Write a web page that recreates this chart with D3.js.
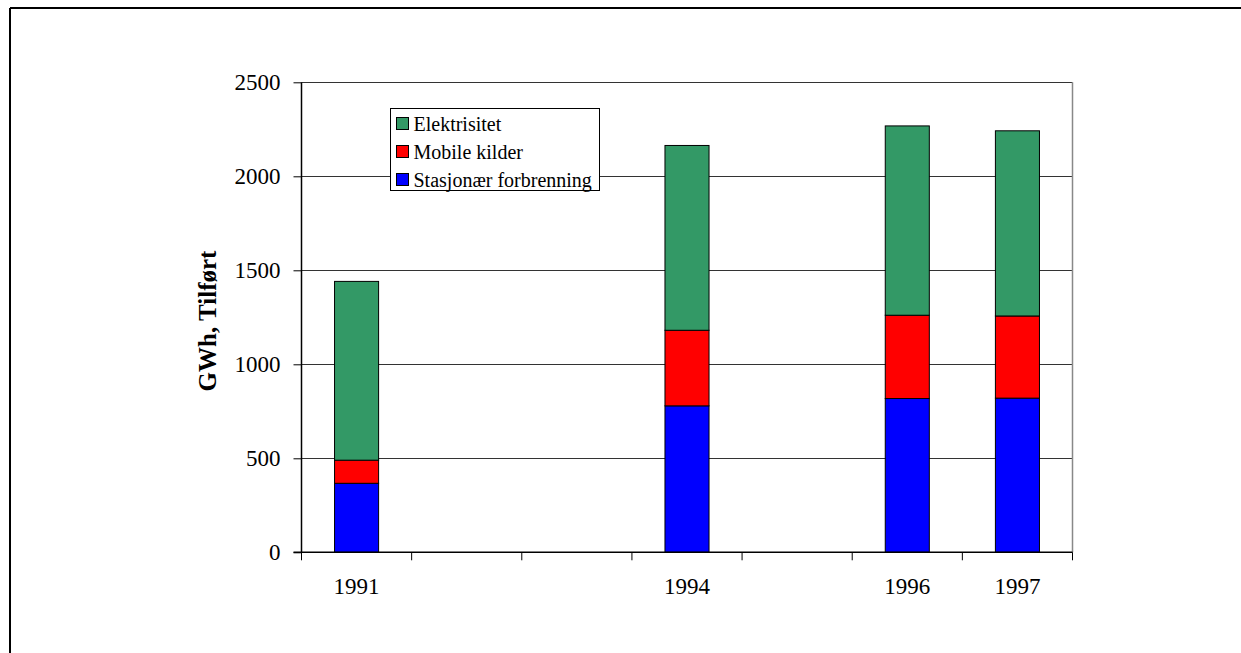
<!DOCTYPE html>
<html>
<head>
<meta charset="utf-8">
<script src="https://cdn.jsdelivr.net/npm/d3@7"></script>
<style>
  html, body { margin: 0; padding: 0; background: #fff; }
  svg { display: block; }
  text { font-family: "Liberation Serif", "Times New Roman", serif; }
</style>
</head>
<body>
<svg id="chart" width="1241" height="653"></svg>
<script>
// Years on the category axis (1992, 1993 and 1995 have no data)
const years = ["1991", "1992", "1993", "1994", "1995", "1996", "1997"];
const tickLabels = ["1991", "1994", "1996", "1997"];

// GWh supplied, by source
const stasjonaer = [367, null, null, 779, null, 818, 820];
const mobile     = [123, null, null, 402, null, 443, 437];
const elektrisitet = [951, null, null, 983, null, 1007, 985];

const seriesNames = ["Stasjonær forbrenning", "Mobile kilder", "Elektrisitet"];
const seriesColors = ["#0000FF", "#FF0000", "#339966"];
const yTicks = [0, 500, 1000, 1500, 2000, 2500];

const svg = d3.select("#chart");
const W = 1241, H = 653;

// Outer frame (top and left edges visible)
svg.append("line").attr("x1", 10).attr("x2", W).attr("y1", 8).attr("y2", 8)
  .attr("stroke", "#000").attr("stroke-width", 2);
svg.append("line").attr("x1", 10).attr("x2", 10).attr("y1", 8).attr("y2", H)
  .attr("stroke", "#000").attr("stroke-width", 2);

const plot = { left: 301.5, right: 1072.5, top: 82.3, bottom: 552.3 };

const x = d3.scaleBand().domain(years)
  .range([plot.left, plot.right])
  .paddingInner(0.6).paddingOuter(0.3);
const step = x.step();

const y = d3.scaleLinear().domain([0, 2500]).range([plot.bottom, plot.top]);

// Horizontal gridlines
svg.append("g").selectAll("line").data(yTicks.filter(t => t > 0)).join("line")
  .attr("x1", plot.left).attr("x2", plot.right)
  .attr("y1", d => Math.round(y(d)) + 0.5).attr("y2", d => Math.round(y(d)) + 0.5)
  .attr("stroke", "#333").attr("stroke-width", 1);

// Right edge of the plot area
svg.append("line").attr("x1", plot.right).attr("x2", plot.right)
  .attr("y1", plot.top).attr("y2", plot.bottom)
  .attr("stroke", "#888").attr("stroke-width", 1.5);

// Stacked bars
const table = years.map((yr, i) => ({
  year: yr,
  "Stasjonær forbrenning": stasjonaer[i],
  "Mobile kilder": mobile[i],
  "Elektrisitet": elektrisitet[i]
})).filter(d => d["Stasjonær forbrenning"] !== null);

const stack = d3.stack().keys(seriesNames);
const layers = stack(table);

svg.append("g").selectAll("g").data(layers).join("g")
  .attr("fill", (d, i) => seriesColors[i])
  .selectAll("rect").data(d => d).join("rect")
  .attr("x", d => x(d.data.year))
  .attr("width", x.bandwidth())
  .attr("y", d => y(d[1]))
  .attr("height", d => y(d[0]) - y(d[1]))
  .attr("stroke", "#000").attr("stroke-width", 1);

// Y axis
const yAxis = svg.append("g")
  .attr("transform", `translate(${plot.left},0)`)
  .call(d3.axisLeft(y).tickValues(yTicks).tickSize(8).tickPadding(13).tickFormat(d3.format("d")));
yAxis.select(".domain").attr("stroke", "#000").attr("stroke-width", 1.5)
  .attr("d", `M0,${plot.bottom}V${plot.top}`);
yAxis.selectAll(".tick line").attr("stroke", "#000");
yAxis.selectAll(".tick text").attr("font-size", 23).attr("fill", "#000")
  .attr("font-family", "Liberation Serif");

// X axis baseline and boundary ticks between categories
svg.append("line").attr("x1", plot.left - 8).attr("x2", plot.right)
  .attr("y1", plot.bottom).attr("y2", plot.bottom)
  .attr("stroke", "#000").attr("stroke-width", 1.5);
const bounds = years.map(yr => x(yr) - step * 0.3).concat([plot.right]);
svg.append("g").selectAll("line").data(bounds).join("line")
  .attr("x1", d => d).attr("x2", d => d)
  .attr("y1", plot.bottom).attr("y2", plot.bottom + 8)
  .attr("stroke", "#000").attr("stroke-width", 1);

svg.append("g").selectAll("text").data(tickLabels).join("text")
  .attr("x", d => x(d) + x.bandwidth() / 2)
  .attr("y", 593.5)
  .attr("text-anchor", "middle")
  .attr("font-size", 23)
  .text(d => d);

// Y axis title
svg.append("text")
  .attr("transform", "translate(216,321) rotate(-90)")
  .attr("text-anchor", "middle")
  .attr("font-size", 25).attr("font-weight", "bold")
  .text("GWh, Tilført");

// Legend
const legend = svg.append("g").attr("transform", "translate(390.5,108.5)");
legend.append("rect").attr("width", 209).attr("height", 82)
  .attr("fill", "#fff").attr("stroke", "#000").attr("stroke-width", 1);
const legendOrder = [2, 1, 0];
legend.selectAll("g.item").data(legendOrder).join("g")
  .attr("class", "item")
  .attr("transform", (d, i) => `translate(6,${9 + i * 28})`)
  .each(function (d) {
    const g = d3.select(this);
    g.append("rect").attr("width", 12).attr("height", 12)
      .attr("fill", seriesColors[d]).attr("stroke", "#000").attr("stroke-width", 1);
    g.append("text").attr("x", 17).attr("y", 13).attr("font-size", 20)
      .text(seriesNames[d]);
  });
</script>
</body>
</html>
